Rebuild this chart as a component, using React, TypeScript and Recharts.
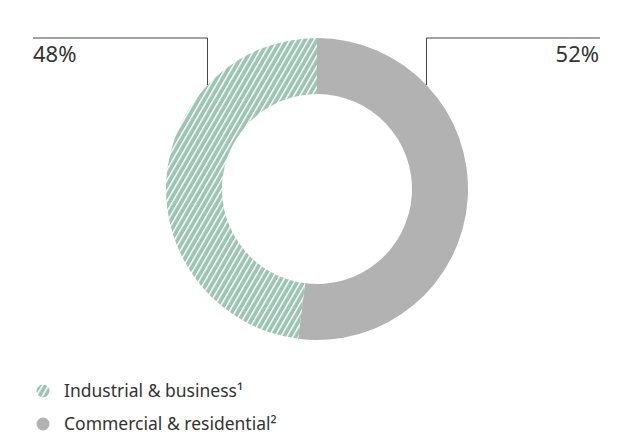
import React from 'react';
import { PieChart, Pie, Cell, Legend } from 'recharts';

const categories = ['Commercial & residential', 'Industrial & business'];
const superscripts = ['²', '¹'];
const values = [52, 48];
const labels = ['52%', '48%'];
const legendOrder = [1, 0];

const GRAY = '#b2b2b2';
const GREEN = '#9ec4b6';
const TEXT = '#333333';
const FONT = '"Noto Sans", sans-serif';

const data = categories.map((name, i) => ({ name, value: values[i], label: labels[i], sup: superscripts[i] }));

const renderLabel = (props: any) => {
  const { cx, cy, outerRadius, index } = props;
  const side = index === 0 ? 1 : -1;
  const dy = 104;
  const dx = Math.sqrt(outerRadius * outerRadius - dy * dy);
  const x0 = cx + side * dx;
  const yTop = cy - outerRadius;
  const xEnd = side > 0 ? 600 : 33;
  return (
    <g>
      <polyline
        points={`${x0},${cy - dy} ${x0},${yTop} ${xEnd},${yTop}`}
        fill="none"
        stroke="#444"
        strokeWidth={1}
      />
      <text
        x={side > 0 ? 599 : 33}
        y={yTop + 24}
        textAnchor={side > 0 ? 'end' : 'start'}
        fontSize={22}
        fill={TEXT}
        fontFamily={FONT}
      >
        {data[index].label}
      </text>
    </g>
  );
};

const renderLegend = () => (
  <g>
    {legendOrder.map((idx, row) => {
      const y = 391 + row * 33;
      return (
        <g key={idx}>
          <circle cx={43} cy={y} r={6.5} fill={idx === 1 ? 'url(#hatch)' : GRAY} />
          <text x={64} y={y + 6} fontSize={17.5} fill={TEXT} fontFamily={FONT}>
            {data[idx].name + data[idx].sup}
          </text>
        </g>
      );
    })}
  </g>
);

export default function App() {
  return (
    <div style={{ position: 'absolute', left: 0, top: 0, width: 630, height: 435, background: '#fff' }}>
      <PieChart width={630} height={435} margin={{ top: 0, right: 0, bottom: 0, left: 0 }}>
        <defs>
          <pattern id="hatch" patternUnits="userSpaceOnUse" width={5.2} height={10} patternTransform="rotate(30)">
            <rect x={0} y={0} width={5.2} height={10} fill={GREEN} />
            <rect x={0} y={0} width={1.4} height={10} fill="#ffffff" />
          </pattern>
        </defs>
        <Pie
          data={data}
          dataKey="value"
          nameKey="name"
          cx={317}
          cy={189}
          innerRadius={95}
          outerRadius={151}
          startAngle={90}
          endAngle={-270}
          stroke="none"
          label={renderLabel}
          labelLine={false}
          isAnimationActive={false}
        >
          <Cell fill={GRAY} />
          <Cell fill="url(#hatch)" />
        </Pie>
        <Legend content={() => null} />
        {renderLegend()}
      </PieChart>
    </div>
  );
}
